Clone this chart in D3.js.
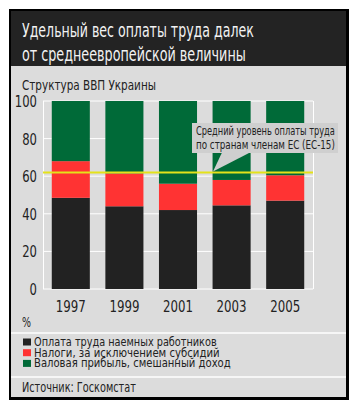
<!DOCTYPE html>
<html><head><meta charset="utf-8">
<script src="https://cdn.jsdelivr.net/npm/d3@7"></script>
<style>
html,body{margin:0;padding:0;background:#fff;}
svg{display:block;}
text{font-family:"DejaVu Sans Condensed","Liberation Sans",sans-serif;}
</style></head>
<body>
<script>
const years = ["1997","1999","2001","2003","2005"];
const wages = [48.5, 44, 42, 44.5, 47];
const taxes = [19.5, 17.5, 14, 13.5, 13.5];
const profit = [32, 38.5, 44, 42, 39.5];
const euLevel = 62;
const yTicks = [0, 20, 40, 60, 80, 100];
const seriesNames = ["Оплата труда наемных работников","Налоги, за исключением субсидий","Валовая прибыль, смешанный доход"];
const colors = ["#222222","#ff3333","#006a38"];

const W = 359, H = 411;
const svg = d3.select("body").append("svg").attr("width", W).attr("height", H);

// place a text at (x,y) and squeeze it horizontally to width w (reference uses a condensed face)
function label(parent, x, y, str, size, w, opts = {}) {
  const t = parent.append("text")
    .attr("font-size", size).attr("fill", opts.fill || "#222")
    .attr("text-anchor", opts.anchor || "start").text(str);
  const w0 = t.node().getComputedTextLength();
  const sx = w0 > 0 ? w / w0 : 1;
  t.attr("transform", `translate(${x},${y}) scale(${sx},1)`);
  return t;
}

// frame
svg.append("rect").attr("x", 9).attr("y", 9).attr("width", 340).attr("height", 391).attr("fill", "#000");
svg.append("rect").attr("x", 11).attr("y", 11).attr("width", 335).attr("height", 386).attr("fill", "#dcdcdc");
svg.append("rect").attr("x", 11).attr("y", 11).attr("width", 335).attr("height", 55).attr("fill", "#232323");

// title
label(svg, 22, 37, "Удельный вес оплаты труда далек", 19, 232, {fill: "#f2f2f2"});
label(svg, 22, 61, "от среднеевропейской величины", 19, 224, {fill: "#f2f2f2"});

label(svg, 22, 90, "Структура ВВП Украины", 13.5, 134);

const x = d3.scaleBand().domain(years).range([44, 312]).paddingInner(0.29).paddingOuter(0.145);
const y = d3.scaleLinear().domain([0, 100]).range([289, 101]);

// grid
const g = svg.append("g");
g.selectAll("line.h").data(yTicks).join("line")
  .attr("x1", 43).attr("x2", 313).attr("y1", d => y(d)).attr("y2", d => y(d))
  .attr("stroke", "#fff").attr("stroke-width", 1);
g.append("line").attr("x1", 43.5).attr("x2", 43.5).attr("y1", y(100)).attr("y2", y(0)).attr("stroke", "#fff");
g.append("line").attr("x1", 313.5).attr("x2", 313.5).attr("y1", y(100)).attr("y2", y(0)).attr("stroke", "#fff");

// y labels
const yl = svg.append("g");
yTicks.forEach(d => label(yl, 37, y(d) + 6, String(d), 16, String(d).length * 7.4, {anchor: "end"}));

// stacked bars
const rows = years.map((yr, i) => ({year: yr, a: wages[i], b: taxes[i], c: profit[i]}));
const stack = d3.stack().keys(["a","b","c"])(rows);
svg.append("g").selectAll("g").data(stack).join("g").attr("fill", (d, i) => colors[i])
  .selectAll("rect").data(d => d).join("rect")
  .attr("x", d => x(d.data.year)).attr("width", x.bandwidth())
  .attr("y", d => y(d[1])).attr("height", d => y(d[0]) - y(d[1]));

// x labels
const xl = svg.append("g");
years.forEach(d => label(xl, x(d) + x.bandwidth() / 2, 312, d, 16, 30, {anchor: "middle"}));

// EU line
svg.append("line").attr("x1", 43).attr("x2", 313).attr("y1", y(euLevel)).attr("y2", y(euLevel))
  .attr("stroke", "#e4e21a").attr("stroke-width", 2);

// callout
svg.append("path").attr("d", `M222,152.5 L250,152.5 L213,${y(euLevel) - 1} Z`).attr("fill", "#cfcfcf");
svg.append("rect").attr("x", 192).attr("y", 123).attr("width", 146).attr("height", 30).attr("fill", "#cfcfcf");
label(svg, 196, 135, "Средний уровень оплаты труда", 12.5, 139);
label(svg, 196, 149, "по странам членам ЕС (ЕС-15)", 12.5, 139);

label(svg, 22, 327, "%", 14, 9);

// dividers
svg.append("line").attr("x1", 11).attr("x2", 346).attr("y1", 333).attr("y2", 333).attr("stroke", "#fff").attr("stroke-width", 1.5);
svg.append("line").attr("x1", 11).attr("x2", 346).attr("y1", 377).attr("y2", 377).attr("stroke", "#fff").attr("stroke-width", 1.5);

// legend
const legW = [183, 186, 197];
const leg = svg.append("g");
seriesNames.forEach((name, i) => {
  const yy = 346 + i * 10.7;
  leg.append("rect").attr("x", 23).attr("y", yy - 7.5).attr("width", 8).attr("height", 7).attr("fill", colors[i]);
  label(leg, 34, yy, name, 12, legW[i]);
});

label(svg, 22, 392, "Источник: Госкомстат", 13.5, 114);
</script>
</body></html>
